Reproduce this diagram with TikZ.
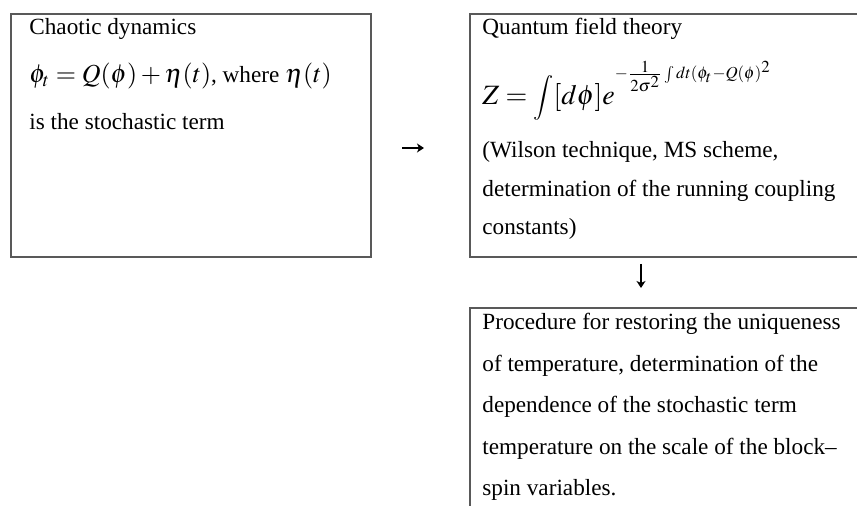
\documentclass[tikz,border=0pt]{standalone}
\usepackage{mathptmx}
\usepackage{graphicx}
\usepackage[no-math]{fontspec}
\setmainfont{Liberation Serif}
\usetikzlibrary{arrows.meta}

\newcommand{\boxfont}{\fontsize{11.6}{20.75}\selectfont}
\newcommand{\qftfont}{\fontsize{11.6}{19.25}\selectfont}
\newcommand{\eqsize}{\fontsize{13}{15}\selectfont}
\newcommand{\zsize}{\fontsize{14}{16}\selectfont}

\begin{document}
\begin{tikzpicture}[x=0.5pt, y=-0.5pt,
  >={Stealth[length=3.5pt, width=4.5pt, inset=1pt]},
  box/.style={draw=black!65, line width=1pt, anchor=north west, inner sep=0pt},
  txt/.style={anchor=base west, inner sep=0pt, align=left, font=\boxfont},
  arr/.style={->, line width=0.55pt}]
  \clip (0,0) rectangle (857,506);
  % the three blocks (the right ones run off the page)
  \node[box, minimum width=180pt, minimum height=121.5pt] (chaos) at (10,13) {};
  \node[box, minimum width=200.5pt, minimum height=121.5pt] (qft) at (469,13) {};
  \node[box, minimum width=200.5pt, minimum height=110pt] (proc) at (469,307) {};
  % texts, placed by the baseline of their last line
  \node[txt] (chaostxt) at (29,130) {Chaotic dynamics\\[3.25pt]
    {\eqsize$\phi_t = Q(\phi)+\eta(t)$}, where {\eqsize$\eta(t)$}\\[2.75pt]
    is the stochastic term};
  \node[txt, font=\qftfont] (qfttxt) at (482,235) {Quantum field theory\\[15.75pt]
    {\zsize\smash{$Z=\vcenter{\hbox{\scalebox{0.8}{$\displaystyle\int$}}}[d\phi]e
      \raisebox{13pt}{$\scriptscriptstyle-\frac{1}{2\sigma^2}\int dt(\phi_t-Q(\phi)^2$}$}}\\[7.25pt]
    (Wilson technique, MS scheme,\\
    determination of the running coupling\\
    constants)};
  \node[txt] (proctxt) at (482,496) {Procedure for restoring the uniqueness\\
    of temperature, determination of the\\
    dependence of the stochastic term\\
    temperature on the scale of the block--\\
    spin variables.};
  % arrows
  \draw[arr, shorten <=15pt, shorten >=22.5pt] ([yshift=-6.25pt]chaos.east) -- ([yshift=-6.25pt]qft.west);
  \draw[arr, shorten <=3pt, shorten >=9.5pt] ([xshift=-14.75pt]qft.south) -- ([xshift=-14.75pt]proc.north);
\end{tikzpicture}
\end{document}
